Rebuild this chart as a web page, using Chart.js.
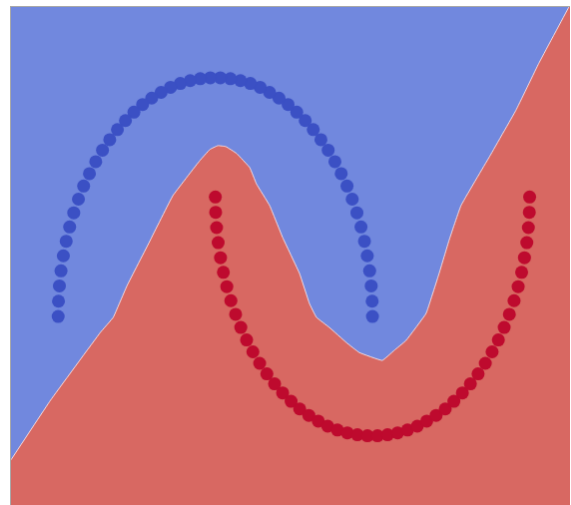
<!DOCTYPE html>
<html>
<head>
<meta charset="utf-8">
<script src="https://cdn.jsdelivr.net/npm/chart.js@4/dist/chart.umd.min.js"></script>
<style>
    body { margin: 0; background: #ffffff; }
    #wrap { position: absolute; left: 10px; top: 6px; }
    #moons { display: block; border-left: 1px solid #a8a8a8; border-top: 1px solid #a8a8a8; background: #7188de; }
</style>
</head>
<body>
<div id="wrap"><canvas id="moons" width="560" height="499"></canvas></div>
<script>
// upper moon (class 0)
const blueX = [1.000, 0.998, 0.992, 0.982, 0.967, 0.949, 0.927, 0.901, 0.871, 0.838, 0.801, 0.761, 0.718, 0.672, 0.623, 0.572, 0.518, 0.463, 0.405, 0.345, 0.285, 0.223, 0.160, 0.096, 0.032,
    -0.032, -0.096, -0.160, -0.223, -0.285, -0.345, -0.405, -0.463, -0.518, -0.572, -0.623, -0.672, -0.718, -0.761, -0.801, -0.838, -0.871, -0.901, -0.927, -0.949, -0.967, -0.982, -0.992, -0.998, -1.000];
const blueY = [0.000, 0.064, 0.128, 0.191, 0.254, 0.315, 0.375, 0.434, 0.491, 0.546, 0.598, 0.648, 0.696, 0.740, 0.782, 0.820, 0.855, 0.887, 0.914, 0.938, 0.959, 0.975, 0.987, 0.995, 0.999,
    0.999, 0.995, 0.987, 0.975, 0.959, 0.938, 0.914, 0.887, 0.855, 0.820, 0.782, 0.740, 0.696, 0.648, 0.598, 0.546, 0.491, 0.434, 0.375, 0.315, 0.254, 0.191, 0.128, 0.064, 0.000];

// lower moon (class 1)
const redX = [0.000, 0.002, 0.008, 0.018, 0.033, 0.051, 0.073, 0.099, 0.129, 0.162, 0.199, 0.239, 0.282, 0.328, 0.377, 0.428, 0.482, 0.537, 0.595, 0.655, 0.715, 0.777, 0.840, 0.904, 0.968,
    1.032, 1.096, 1.160, 1.223, 1.285, 1.345, 1.405, 1.463, 1.518, 1.572, 1.623, 1.672, 1.718, 1.761, 1.801, 1.838, 1.871, 1.901, 1.927, 1.949, 1.967, 1.982, 1.992, 1.998, 2.000];
const redY = [0.500, 0.436, 0.372, 0.309, 0.246, 0.185, 0.125, 0.066, 0.009, -0.046, -0.098, -0.148, -0.196, -0.240, -0.282, -0.320, -0.355, -0.387, -0.414, -0.438, -0.459, -0.475, -0.487, -0.495, -0.499,
    -0.499, -0.495, -0.487, -0.475, -0.459, -0.438, -0.414, -0.387, -0.355, -0.320, -0.282, -0.240, -0.196, -0.148, -0.098, -0.046, 0.009, 0.066, 0.125, 0.185, 0.246, 0.309, 0.372, 0.436, 0.500];

// decision boundary (red below, blue above)
const edgeX = [-1.300, -1.049, -0.732, -0.650, -0.561, -0.415, -0.270, -0.098, -0.035, 0.016, 0.067, 0.136, 0.219, 0.261, 0.346, 0.428, 0.536, 0.599, 0.644, 0.726, 0.834, 0.916, 1.062, 1.138, 1.214, 1.341, 1.424, 1.487, 1.563, 1.741, 1.912, 2.058, 2.248, 2.300];
const edgeY = [-0.600, -0.351, -0.067, -0.004, 0.130, 0.318, 0.506, 0.653, 0.699, 0.715, 0.711, 0.682, 0.623, 0.556, 0.464, 0.331, 0.180, 0.054, -0.004, -0.046, -0.109, -0.151, -0.184, -0.142, -0.100, 0.013, 0.180, 0.318, 0.464, 0.665, 0.862, 1.059, 1.293, 1.360];

const xRange = [-1.300, 2.257];
const yRange = [-0.789, 1.295];

const toPoints = (xs, ys) => xs.map((x, i) => ({ x: x, y: ys[i] }));

new Chart(document.getElementById("moons"), {
    type: 'scatter',
    data: {
        datasets: [{
            data: toPoints(blueX, blueY),
            backgroundColor: '#3b50c4',
            borderWidth: 0,
            pointRadius: 6.5,
            order: 1
        }, {
            data: toPoints(redX, redY),
            backgroundColor: '#be0a2e',
            borderWidth: 0,
            pointRadius: 6.5,
            order: 1
        }, {
            type: 'line',
            data: toPoints(edgeX, edgeY),
            borderColor: 'rgba(255, 235, 235, 0.85)',
            borderWidth: 1,
            backgroundColor: '#d86862',
            fill: 'start',
            pointRadius: 0,
            tension: 0.08,
            order: 5
        }]
    },
    options: {
        responsive: false,
        animation: false,
        layout: { padding: 0, autoPadding: false },
        plugins: {
            legend: { display: false },
            tooltip: { enabled: false }
        },
        scales: {
            x: { type: 'linear', display: false, min: xRange[0], max: xRange[1] },
            y: { type: 'linear', display: false, min: yRange[0], max: yRange[1] }
        }
    }
});
</script>
</body>
</html>
